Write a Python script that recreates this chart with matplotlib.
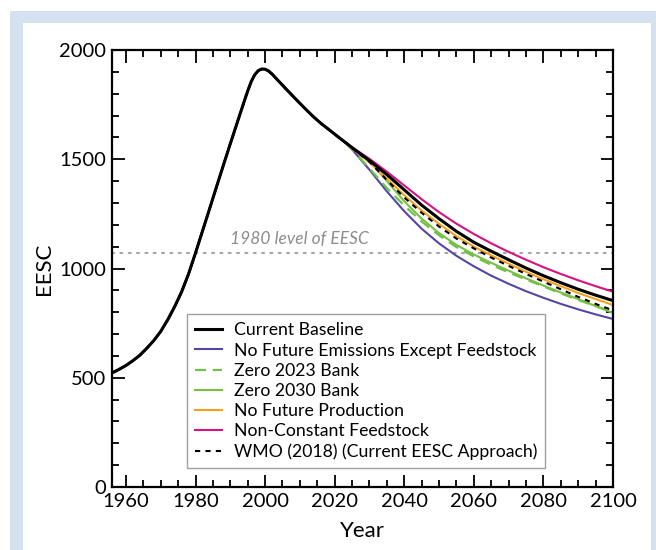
import matplotlib
matplotlib.use("Agg")
import matplotlib.pyplot as plt
from matplotlib.patches import Rectangle
from matplotlib.ticker import MultipleLocator

plt.rcParams['font.family'] = ['Lato', 'DejaVu Sans']

# Shared historical EESC record
hist_years = [1956, 1958, 1960, 1962, 1964, 1966, 1968, 1970, 1972, 1974, 1976, 1978,
              1980, 1982, 1984, 1986, 1988, 1990, 1992, 1994, 1995, 1996, 1997, 1998,
              1999, 2000, 2001, 2002, 2003, 2004, 2005, 2006, 2008, 2010, 2012, 2014,
              2016, 2018, 2020, 2022, 2023]
hist_eesc = [522, 538, 556, 578, 603, 635, 670, 712, 765, 825, 893, 975,
             1071, 1171, 1271, 1372, 1472, 1571, 1668, 1765, 1812, 1855, 1886, 1905,
             1913, 1912, 1904, 1890, 1873, 1856, 1839, 1822, 1789, 1756, 1724, 1693,
             1665, 1640, 1615, 1590, 1578]

# Scenario projections
proj_years = [2025, 2030, 2035, 2040, 2045, 2050, 2055, 2060, 2065, 2070, 2075,
              2080, 2085, 2090, 2095, 2100]
current_baseline = [1553, 1494, 1430, 1360, 1290, 1228, 1170, 1120, 1079, 1040, 1002,
                    967, 935, 905, 878, 853]
no_future_emissions = [1545, 1452, 1353, 1262, 1182, 1115, 1058, 1010, 967, 930, 896,
                       866, 838, 813, 790, 769]
zero_2023_bank = [1545, 1458, 1368, 1288, 1215, 1152, 1098, 1055, 1017, 982, 950,
                  918, 886, 856, 828, 801]
zero_2030_bank = [1553, 1494, 1400, 1308, 1228, 1162, 1108, 1064, 1026, 990, 955,
                  922, 890, 860, 828, 796]
no_future_production = [1550, 1485, 1412, 1335, 1265, 1204, 1148, 1100, 1060, 1022, 985,
                        951, 919, 888, 860, 833]
non_constant_feedstock = [1555, 1502, 1443, 1380, 1317, 1258, 1205, 1158, 1115, 1076, 1040,
                          1006, 975, 946, 919, 894]
wmo_2018 = [1551, 1488, 1405, 1325, 1255, 1192, 1137, 1092, 1050, 1012, 975,
            940, 905, 870, 838, 808]

level_1980 = 1071

fig = plt.figure(figsize=(6.56, 5.5), dpi=100)
fig.patch.set_facecolor('white')
fig.patches.append(Rectangle((10 / 656, 0), 646 / 656, 539 / 550, transform=fig.transFigure,
                             facecolor='#d3e1f1', edgecolor='none', zorder=-2))
fig.patches.append(Rectangle((23 / 656, 0), 628 / 656, 527 / 550, transform=fig.transFigure,
                             facecolor='white', edgecolor='none', zorder=-1))

ax = fig.add_axes([112 / 656, 63 / 550, 501 / 656, 437 / 550])

series = [
    ("No Future Emissions Except Feedstock", no_future_emissions, '#5546a6', '-', 1.5),
    ("Zero 2023 Bank", zero_2023_bank, '#6cc24a', (0, (5, 3)), 1.6),
    ("Zero 2030 Bank", zero_2030_bank, '#78c043', '-', 1.5),
    ("No Future Production", no_future_production, '#f7a01c', '-', 1.5),
    ("Non-Constant Feedstock", non_constant_feedstock, '#d8127e', '-', 1.5),
    ("Current Baseline", current_baseline, 'black', '-', 2.2),
    ("WMO (2018) (Current EESC Approach)", wmo_2018, 'black', (0, (2.5, 2.5)), 1.5),
]

handles = {}
for label, vals, color, ls, lw in series:
    (h,) = ax.plot(hist_years + proj_years, hist_eesc + vals, color=color,
                   linestyle=ls, linewidth=lw, label=label)
    handles[label] = h

ax.axhline(level_1980, color='#a6a6a6', linestyle=(0, (1, 3)), linewidth=1.5,
           dash_capstyle='round', zorder=0)
ax.text(1990, 1135, "1980 level of EESC", color='#8c8c8c', style='italic',
        fontsize=12.5, va='center', ha='left')

ax.set_xlim(1956, 2100)
ax.set_ylim(0, 2000)
ax.xaxis.set_major_locator(MultipleLocator(20))
ax.xaxis.set_minor_locator(MultipleLocator(5))
ax.yaxis.set_major_locator(MultipleLocator(500))
ax.yaxis.set_minor_locator(MultipleLocator(100))
ax.tick_params(which='both', direction='in', top=True, right=True, width=1.3,
               labelsize=14.5, pad=4)
ax.tick_params(which='major', length=9)
ax.tick_params(which='minor', length=5)
for s in ax.spines.values():
    s.set_linewidth(1.6)

ax.set_xlabel("Year", fontsize=16, labelpad=8)
ax.set_ylabel("EESC", fontsize=16, labelpad=4)

order = ["Current Baseline", "No Future Emissions Except Feedstock", "Zero 2023 Bank",
         "Zero 2030 Bank", "No Future Production", "Non-Constant Feedstock",
         "WMO (2018) (Current EESC Approach)"]
leg = ax.legend([handles[k] for k in order], order, loc='lower left',
                bbox_to_anchor=(0.15, 0.043), fontsize=12.7, frameon=True,
                fancybox=False, edgecolor='#a0a0a0', framealpha=1,
                handlelength=1.5, handletextpad=0.7, labelspacing=0.24,
                borderpad=0.45, borderaxespad=0)
leg.get_frame().set_linewidth(1.0)

fig.savefig("out.png", dpi=100)
